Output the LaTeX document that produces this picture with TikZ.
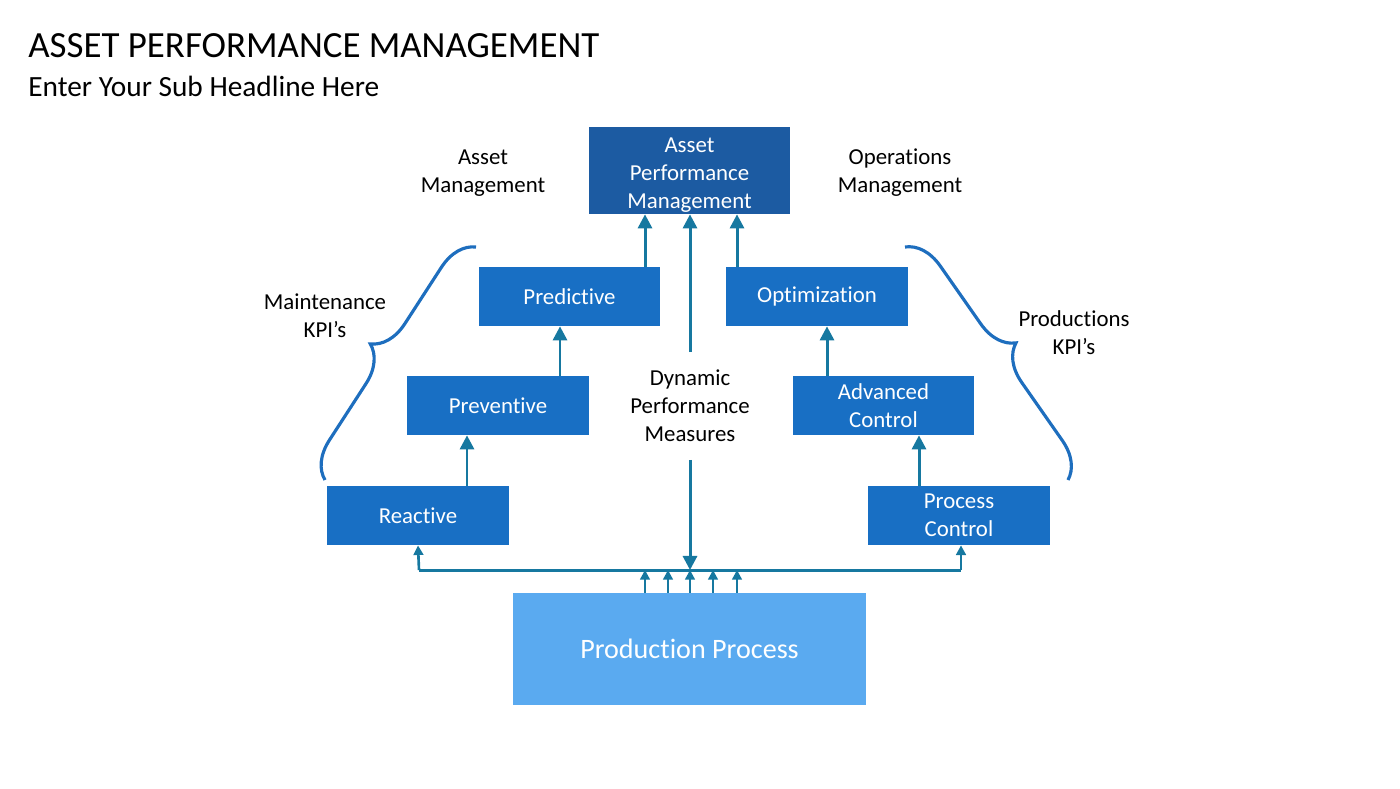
\documentclass[tikz,border=0pt]{standalone}
\usepackage{fontspec}
\setmainfont[Ligatures=NoCommon]{Carlito}
\usepackage{xcolor}
\usetikzlibrary{arrows.meta,decorations.pathreplacing}

\definecolor{apmblue}{RGB}{28,91,162}
\definecolor{boxblue}{RGB}{24,111,196}
\definecolor{prodblue}{RGB}{90,170,240}
\definecolor{arrowteal}{RGB}{22,120,160}
\definecolor{braceblue}{RGB}{30,110,190}

\begin{document}
\begin{tikzpicture}[x=0.02cm, y=-0.02cm,
        box/.style={fill=boxblue, text=white, minimum width=3.64cm, minimum height=1.18cm,
            inner sep=0pt, align=center, font=\fontsize{13}{16}\selectfont},
        lbl/.style={align=center, font=\fontsize{13}{16}\selectfont},
        arr/.style={draw=arrowteal, line width=1.7pt, -{Triangle[length=8pt, width=8pt]}},
        smallarr/.style={draw=arrowteal, line width=1.5pt, -{Triangle[length=5.5pt, width=5.5pt]}},
        brc/.style={draw=braceblue, line width=1.8pt, decorate,
            decoration={brace, amplitude=0.72cm}}]
    \useasboundingbox (0,0) rectangle (1400,788);

    \node[anchor=base west, inner sep=0pt, font=\fontsize{21}{26}\selectfont] (title) at (28,57) {ASSET PERFORMANCE MANAGEMENT};
    \node[anchor=base west, inner sep=0pt, font=\fontsize{16.7}{20}\selectfont] (subtitle) at (28,96) {Enter Your Sub Headline Here};

    \node[box, fill=apmblue, minimum width=4.02cm, minimum height=1.74cm] (apm) at (689.5,170.5) {\rule{0pt}{14pt}Asset\\Performance\\Management};
    \node[box] (pred) at (569.5,296.5) {Predictive};
    \node[box] (opt)  at (817,296.5)   {Optimization};
    \node[box] (prev) at (498,405.5)   {Preventive};
    \node[box] (adv)  at (883.5,405.5) {Advanced\\Control};
    \node[box] (react) at (418,515.5)  {Reactive};
    \node[box] (proc) at (959,515.5)   {Process\\Control};
    \node[box, fill=prodblue, minimum width=7.06cm, minimum height=2.24cm,
        font=\fontsize{16}{19}\selectfont] (prod) at (689.5,649) {Production Process};

    \node[lbl] (assetmgmt) at (483,173) {Asset\\Management};
    \node[lbl] (opsmgmt) at (900,173) {Operations\\Management};
    \node[lbl] (maint) at (325,316) {Maintenance\\KPI’s};
    \node[lbl] (prodkpi) at (1074,333) {Productions\\KPI’s};
    \node[lbl, inner sep=0.35cm] (dpm) at (690,406) {Dynamic\\Performance\\Measures};

    \coordinate (xl) at (645,0);
    \coordinate (xml) at (668,0);
    \coordinate (xm) at (690,0);
    \coordinate (xmr) at (713,0);
    \coordinate (xr) at (737,0);
    \coordinate (xprev) at (560,0);
    \coordinate (xreact) at (467,0);
    \coordinate (xadv) at (827,0);
    \coordinate (xproc) at (919,0);
    \coordinate (busL) at (419,570);
    \coordinate (busR) at (961,570);

    \draw[arr] (pred.north -| xl) -- (apm.south -| xl);
    \draw[arr] (opt.north -| xr) -- (apm.south -| xr);
    \draw[arr] (dpm.north) -- (apm.south -| xm);
    \draw[arr] (dpm.south) -- (busL -| xm);
    \draw[arr] (prev.north -| xprev) -- (pred.south -| xprev);
    \draw[arr] (react.north -| xreact) -- (prev.south -| xreact);
    \draw[arr] (adv.north -| xadv) -- (opt.south -| xadv);
    \draw[arr] (proc.north -| xproc) -- (adv.south -| xproc);

    \draw[draw=arrowteal, line width=1.7pt] (busL) -- (busR);
    \draw[smallarr] (busL) -- (react.south);
    \draw[smallarr] (busR) -- (proc.south -| busR);

    \draw[smallarr] (prod.north -| xl) -- (busL -| xl);
    \draw[smallarr] (prod.north -| xml) -- (busL -| xml);
    \draw[smallarr] (prod.north -| xm) -- (busL -| xm);
    \draw[smallarr] (prod.north -| xmr) -- (busL -| xmr);
    \draw[smallarr] (prod.north -| xr) -- (busL -| xr);

    \coordinate (lbrbot) at (325,480);
    \coordinate (lbrtop) at (476,247);
    \coordinate (rbrtop) at (905,247);
    \coordinate (rbrbot) at (1068,480);
    \draw[brc] (lbrbot) -- (lbrtop);
    \draw[brc] (rbrtop) -- (rbrbot);
\end{tikzpicture}
\end{document}
